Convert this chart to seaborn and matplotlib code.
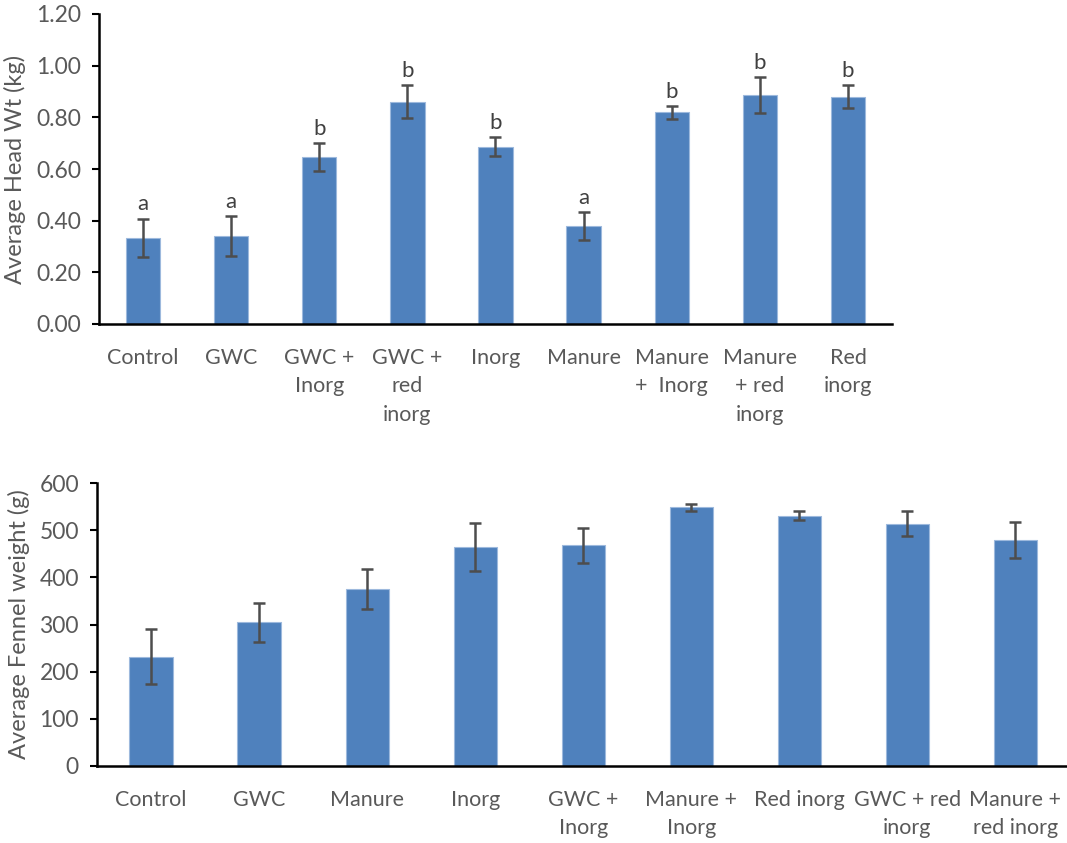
import matplotlib
matplotlib.use("Agg")
import matplotlib.pyplot as plt
import seaborn as sns
import numpy as np
import pandas as pd

# ---- Head weight data (kg) ----
head_labels = ["Control", "GWC", "GWC +\nInorg", "GWC +\nred\ninorg", "Inorg",
               "Manure", "Manure\n+  Inorg", "Manure\n+ red\ninorg", "Red\ninorg"]
head_mean = [0.334, 0.341, 0.647, 0.860, 0.687, 0.379, 0.819, 0.885, 0.880]
head_err = [0.074, 0.078, 0.054, 0.064, 0.038, 0.053, 0.025, 0.070, 0.045]
head_groups = ["a", "a", "b", "b", "b", "a", "b", "b", "b"]

# ---- Fennel weight data (g) ----
fennel_labels = ["Control", "GWC", "Manure", "Inorg", "GWC +\nInorg",
                 "Manure +\nInorg", "Red inorg", "GWC + red\ninorg", "Manure +\nred inorg"]
fennel_mean = [231.5, 304.5, 375.5, 464.5, 467.5, 549.0, 530.5, 514.0, 478.5]
fennel_err = [58, 42, 42, 51, 37, 7.5, 10, 26, 38]

BAR = "#4F81BD"
EDGE = "#9DB9DD"
GREY = "#595959"
ERR = "#4D4D4D"
FS = 15.5      # category labels
FS_Y = 16.5    # value tick labels
FS_LAB = 17    # axis titles

sns.set_theme(style="white")
plt.rcParams["font.family"] = ["Lato", "DejaVu Sans"]

fig = plt.figure(figsize=(10.67, 8.43), dpi=100)
ax1 = fig.add_axes([99 / 1067, (843 - 324) / 843, (892 - 99) / 1067, (324 - 14) / 843])
ax2 = fig.add_axes([97 / 1067, (843 - 766) / 843, (1069.5 - 97) / 1067, (766 - 483) / 843])


def draw(ax, labels, mean, err, width, ylim, ticks, fmt, ylabel):
    df = pd.DataFrame({"treatment": labels, "value": mean})
    sns.barplot(data=df, x="treatment", y="value", color=BAR, saturation=1,
                width=width, edgecolor=EDGE, linewidth=0.8, errorbar=None, ax=ax)
    xs = np.arange(len(labels))
    ax.errorbar(xs, mean, yerr=err, fmt="none", ecolor=ERR, elinewidth=1.8,
                capsize=4.0, capthick=1.8, zorder=5)
    ax.set_xlim(-0.5, len(labels) - 0.5)
    ax.set_ylim(*ylim)
    ax.set_yticks(ticks)
    ax.set_yticklabels([fmt.format(t) for t in ticks])
    ax.set_xlabel("")
    ax.set_ylabel(ylabel, color=GREY, fontsize=FS_LAB, labelpad=7)
    for side in ["top", "right"]:
        ax.spines[side].set_visible(False)
    for side in ["left", "bottom"]:
        ax.spines[side].set_color("black")
        ax.spines[side].set_linewidth(1.8)
    ax.tick_params(axis="y", which="major", left=True, length=5, width=1.5,
                   color="black", labelsize=FS_Y, labelcolor=GREY, pad=8)
    ax.tick_params(axis="x", bottom=False, labelsize=FS, labelcolor=GREY, pad=11)
    for lab in ax.get_xticklabels():
        lab.set_linespacing(1.55)
        lab.set_verticalalignment("top")
    ax.grid(False)
    return xs


xs = draw(ax1, head_labels, head_mean, head_err, 0.39, (0, 1.2),
          [0.0, 0.2, 0.4, 0.6, 0.8, 1.0, 1.2], "{:.2f}", "Average Head Wt (kg)")
for x, m, e, g in zip(xs, head_mean, head_err, head_groups):
    ax1.annotate(g, (x, m + e), xytext=(0, 3), textcoords="offset points",
                 ha="center", va="bottom", fontsize=16, color="#404040")

draw(ax2, fennel_labels, fennel_mean, fennel_err, 0.40, (0, 600),
     [0, 100, 200, 300, 400, 500, 600], "{:.0f}", "Average Fennel weight (g)")

fig.savefig("out.png", dpi=100)
